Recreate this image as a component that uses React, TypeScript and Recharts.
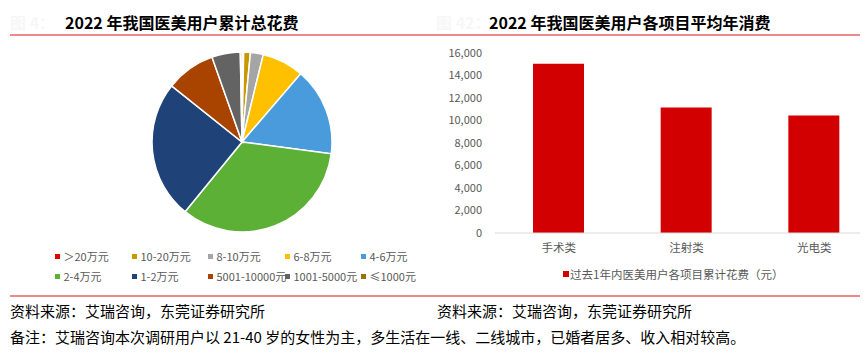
import React from 'react';
import { PieChart, Pie, Cell, BarChart, Bar, XAxis, YAxis } from 'recharts';

const PIE_NAMES = ['＞20万元', '10-20万元', '8-10万元', '6-8万元', '4-6万元', '2-4万元', '1-2万元', '5001-10000元', '1001-5000元', '≤1000元'];
const PIE_VALUES = [0.3, 1.2, 2.3, 7.5, 15.8, 33.8, 24.8, 8.9, 5.1, 0.3];
const PIE_COLORS = ['#E00000', '#C99700', '#A5A5A5', '#FFC000', '#4A9BDC', '#5BB035', '#1F4279', '#A84300', '#636363', '#997300'];

const BAR_CATS = ['手术类', '注射类', '光电类'];
const BAR_VALUES = [15050, 11150, 10450];
const BAR_SERIES = '过去1年内医美用户各项目累计花费（元）';
const Y_TICKS = [0, 2000, 4000, 6000, 8000, 10000, 12000, 14000, 16000];

const TITLE_LEFT = '2022 年我国医美用户累计总花费';
const TITLE_RIGHT = '2022 年我国医美用户各项目平均年消费';
const SOURCE = '资料来源：艾瑞咨询，东莞证券研究所';
const NOTE = '备注：艾瑞咨询本次调研用户以 21-40 岁的女性为主，多生活在一线、二线城市，已婚者居多、收入相对较高。';

const FONT = "'Noto Sans CJK SC', 'Noto Sans', sans-serif";

const pieData = PIE_NAMES.map((n, i) => ({ name: n, value: PIE_VALUES[i] }));
const barData = BAR_CATS.map((c, i) => ({ name: c, value: BAR_VALUES[i] }));

const fmt = (v: number) => v.toLocaleString('en-US');

export default function App() {
  const abs = (l: number, t: number, extra: React.CSSProperties = {}): React.CSSProperties => ({
    position: 'absolute', left: l, top: t, ...extra,
  });
  const legendCols = [55, 132, 208, 285, 361];
  const legendRows = [256, 276];
  return (
    <div style={{ position: 'absolute', left: 0, top: 0, width: 866, height: 354, overflow: 'hidden', background: '#fff', fontFamily: FONT }}>
      {/* faint figure numbers */}
      <div style={abs(10, 12, { fontSize: 16, lineHeight: '20px', color: '#f7f7f7', fontWeight: 700 })}>图 4：</div>
      <div style={abs(436, 12, { fontSize: 16, lineHeight: '20px', color: '#f7f7f7', fontWeight: 700 })}>图 42：</div>
      {/* titles */}
      <div style={abs(65, 12, { fontSize: 16, lineHeight: '20px', color: '#000', fontWeight: 700, whiteSpace: 'nowrap' })}>{TITLE_LEFT}</div>
      <div style={abs(489, 12, { fontSize: 16, lineHeight: '20px', color: '#000', fontWeight: 700, whiteSpace: 'nowrap' })}>{TITLE_RIGHT}</div>
      {/* red rules */}
      <div style={abs(10, 34, { width: 850, height: 1.5, background: '#F08A8A' })} />
      <div style={abs(10, 295, { width: 850, height: 1.5, background: '#F08A8A' })} />

      {/* pie */}
      <div style={abs(0, 0)}>
        <PieChart width={433} height={240} margin={{ top: 0, right: 0, bottom: 0, left: 0 }}>
          <Pie
            data={pieData}
            dataKey="value"
            nameKey="name"
            cx={242}
            cy={142}
            outerRadius={90}
            startAngle={90}
            endAngle={-270}
            stroke="#ffffff"
            strokeWidth={1.5}
            isAnimationActive={false}
          >
            {pieData.map((d, i) => (
              <Cell key={d.name} fill={PIE_COLORS[i]} />
            ))}
          </Pie>
        </PieChart>
      </div>
      {/* pie legend */}
      {PIE_NAMES.map((n, i) => {
        const col = i % 5;
        const row = Math.floor(i / 5);
        const x = legendCols[col];
        const yc = legendRows[row];
        return (
          <React.Fragment key={n}>
            <div style={abs(x, yc - 2.5, { width: 5, height: 5, background: PIE_COLORS[i] })} />
            <div style={abs(x + 8.5, yc - 8, { fontSize: 11, lineHeight: '16px', color: '#595959', whiteSpace: 'nowrap' })}>{n}</div>
          </React.Fragment>
        );
      })}

      {/* bar chart */}
      <div style={abs(433, 0, { width: 427, height: 290, overflow: 'hidden' })}>
        <BarChart width={452} height={290} data={barData} margin={{ top: 53, right: 7, left: 0, bottom: 27 }}>
          <YAxis
            width={62}
            domain={[0, 16000]}
            ticks={Y_TICKS}
            tickFormatter={fmt}
            axisLine={false}
            tickLine={false}
            tickMargin={7}
            tick={{ fill: '#595959', fontSize: 11, fontFamily: FONT }}
            interval={0}
          />
          <XAxis
            dataKey="name"
            height={30}
            axisLine={{ stroke: '#D9D9D9', strokeWidth: 1 }}
            tickLine={false}
            tickMargin={5}
            tick={{ fill: '#595959', fontSize: 11.5, fontFamily: FONT }}
            interval={0}
          />
          <Bar dataKey="value" name={BAR_SERIES} fill="#D20000" barSize={51} isAnimationActive={false} />
        </BarChart>
      </div>
      {/* bar legend */}
      <div style={abs(563, 271, { width: 5.5, height: 5.5, background: '#D20000' })} />
      <div style={abs(570, 266, { fontSize: 11.5, lineHeight: '16px', color: '#595959', whiteSpace: 'nowrap' })}>{BAR_SERIES}</div>

      {/* footer */}
      <div style={abs(10, 301, { fontSize: 15, lineHeight: '20px', color: '#000', whiteSpace: 'nowrap' })}>{SOURCE}</div>
      <div style={abs(437, 301, { fontSize: 15, lineHeight: '20px', color: '#000', whiteSpace: 'nowrap' })}>{SOURCE}</div>
      <div style={abs(10, 327, { fontSize: 15, lineHeight: '20px', color: '#000', whiteSpace: 'nowrap' })}>{NOTE}</div>
    </div>
  );
}
